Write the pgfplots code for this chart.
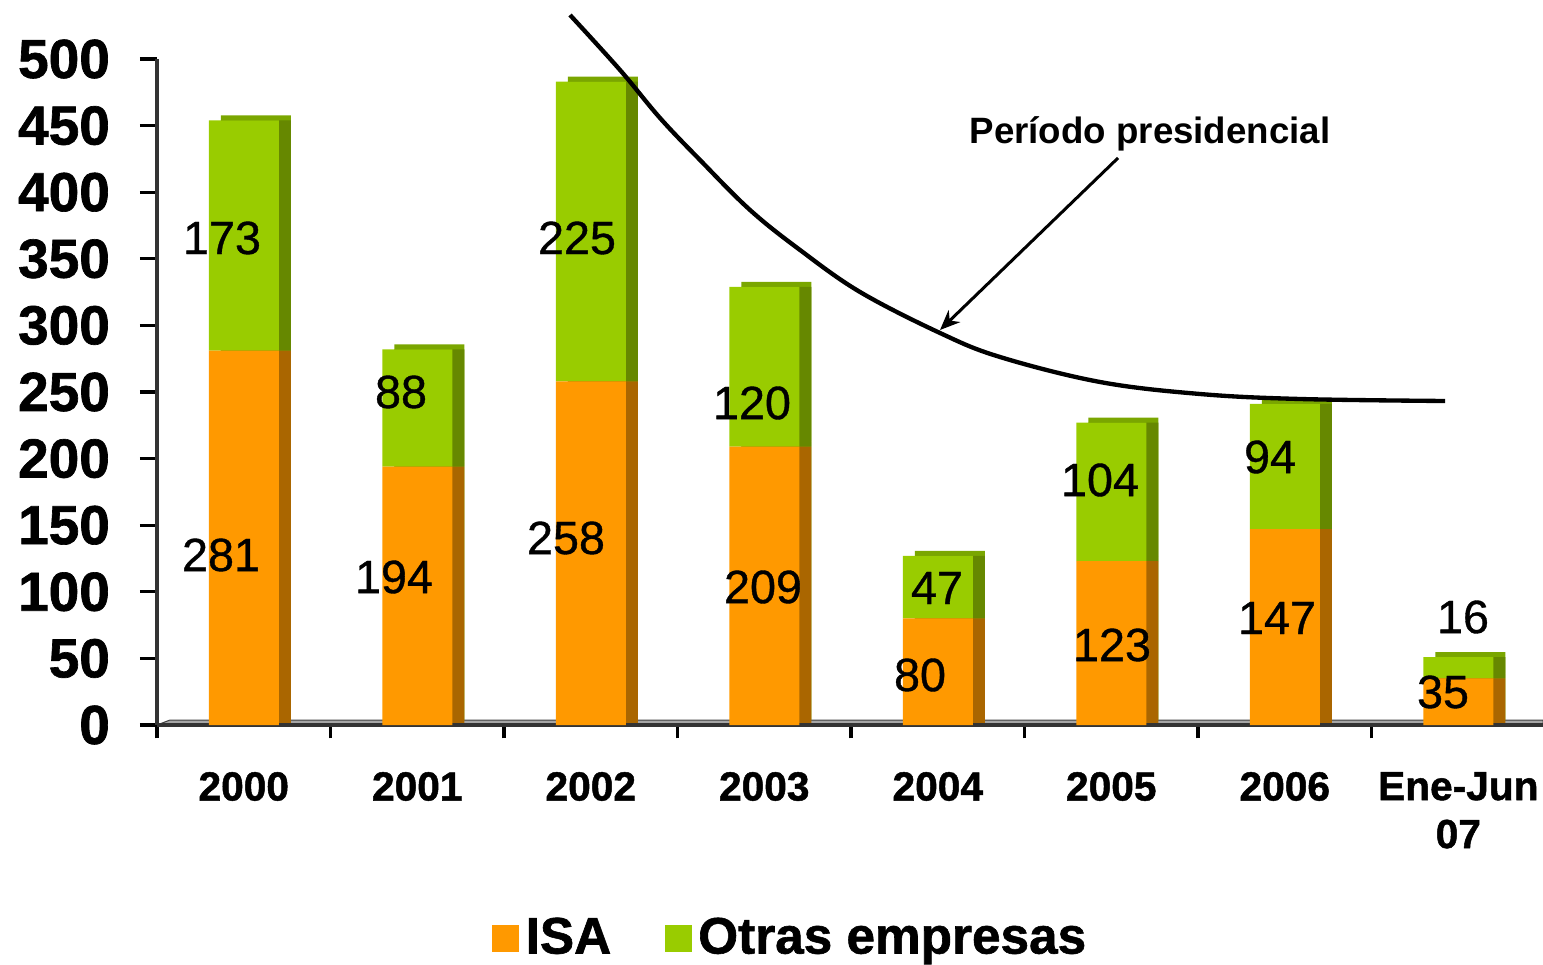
\documentclass[border=0pt]{standalone}
\usepackage{pgfplots}
\pgfplotsset{compat=1.18}
\usepackage{pgfplotstable}
\usepackage{fontspec}
\setmainfont{Liberation Sans}
\newfontfamily\gruesa[FakeBold=1.2]{Liberation Sans Bold}
\newfontfamily\media[FakeBold=0.8]{Liberation Sans}
\usetikzlibrary{arrows.meta}

\definecolor{isa}{RGB}{255,153,0}
\definecolor{isaside}{RGB}{170,102,0}
\definecolor{otras}{RGB}{153,204,0}
\definecolor{otrasside}{RGB}{102,136,0}
\definecolor{otrastop}{RGB}{122,166,0}

% proyectos por año: ISA y otras empresas
\pgfplotstableread{
x isa otras
0 281 173
1 194 88
2 258 225
3 209 120
4 80 47
5 123 104
6 147 94
7 35 16
}\datos

\pgfplotsset{
  base/.style={
    scale only axis, width=415.8pt, height=199.8pt,
    xmin=-0.5, xmax=7.488, ymin=0, ymax=500,
    ybar stacked, bar width=21pt, anchor=south west,
  },
  hidden/.style={base, hide axis},
}
% 1 px de la referencia = 0.3pt; origen arriba a la izquierda
\tikzset{px/.style={x=0.3pt, y=-0.3pt, yshift=289.2pt}}

\begin{document}
\begin{tikzpicture}
\useasboundingbox (0,0) rectangle (462.9pt,289.2pt);
% piso 3D
\begin{scope}[px]
\fill[gray!70, draw=gray!50!black, line width=0.3pt]
  (157,725) -- (170,720) -- (1543,720) -- (1543,725) -- cycle;
\end{scope}

% cara superior
\begin{axis}[hidden, at={(50.7pt,73.2pt)}]
\addplot[fill=otrastop, draw=none] table[x=x, y=isa] {\datos};
\addplot[fill=otrastop, draw=none] table[x=x, y=otras] {\datos};
\end{axis}
% cara lateral
\begin{axis}[hidden, at={(50.7pt,71.7pt)}]
\addplot[fill=isaside, draw=none] table[x=x, y=isa] {\datos};
\addplot[fill=otrasside, draw=none] table[x=x, y=otras] {\datos};
\end{axis}
% frente
\begin{axis}[base, at={(47.1pt,71.7pt)},
  axis x line*=bottom, axis y line*=left,
  axis line style={black!80, line width=1pt},
  tick align=outside,
  tick style={black, line width=1pt},
  major tick length=5.1pt, minor tick length=4pt,
  ytick={0,50,...,500},
  yticklabel style={font=\fontsize{16.5}{19}\gruesa, xshift=-5.5pt},
  xtick={0,...,7},
  xticklabels={2000,2001,2002,2003,2004,2005,2006,{Ene-Jun\\07}},
  xticklabel style={align=center, font=\fontsize{12.2}{14.4}\gruesa, yshift=-5.5pt},
  major x tick style={draw=none},
  minor xtick={-0.5,0.5,...,7.5},
  /pgf/number format/assume math mode=true,
  legend columns=2,
  legend style={at={(0.4585,-0.32)}, anchor=center, draw=none,
    font=\fontsize{15.4}{18}\gruesa,
    /tikz/every even column/.append style={column sep=14pt}},
  legend image code/.code={\fill[#1] (-2.5pt,-4.05pt) rectangle (5.6pt,4.05pt);},
]
\addplot[fill=isa, draw=none] table[x=x, y=isa] {\datos};
\addplot[fill=otras, draw=none] table[x=x, y=otras] {\datos};
\legend{ISA, Otras empresas}
\end{axis}

\begin{scope}[px]
% etiquetas de datos
\begin{scope}[every node/.style={font=\fontsize{14}{16}\media, anchor=center, inner sep=0pt}]
\node at (222,238) {173}; \node at (221,555) {281};
\node at (401,392) {88};  \node at (394,577) {194};
\node at (577,238) {225}; \node at (566,538) {258};
\node at (752,403) {120}; \node at (763,587) {209};
\node at (937,588) {47};  \node at (920,675) {80};
\node at (1100,480) {104}; \node at (1112,645) {123};
\node at (1270,457) {94};  \node at (1277,618) {147};
\node at (1463,617) {16};  \node at (1443,692) {35};
\end{scope}

% curva del periodo presidencial
\draw[line width=1.3pt] plot[smooth, tension=0.6] coordinates {
  (570,15) (620,70) (660,118) (700,160) (750,210) (800,250) (860,292)
  (940,333) (1000,357) (1100,382) (1200,394) (1300,399) (1445,401)};
\draw[line width=0.9pt, -{Stealth[length=6pt,width=5pt]}] (1118,158) -- (940,330);
\node[font=\fontsize{11}{13}\selectfont\bfseries] at (1150,134) {Período presidencial};
\end{scope}
\end{tikzpicture}
\end{document}
